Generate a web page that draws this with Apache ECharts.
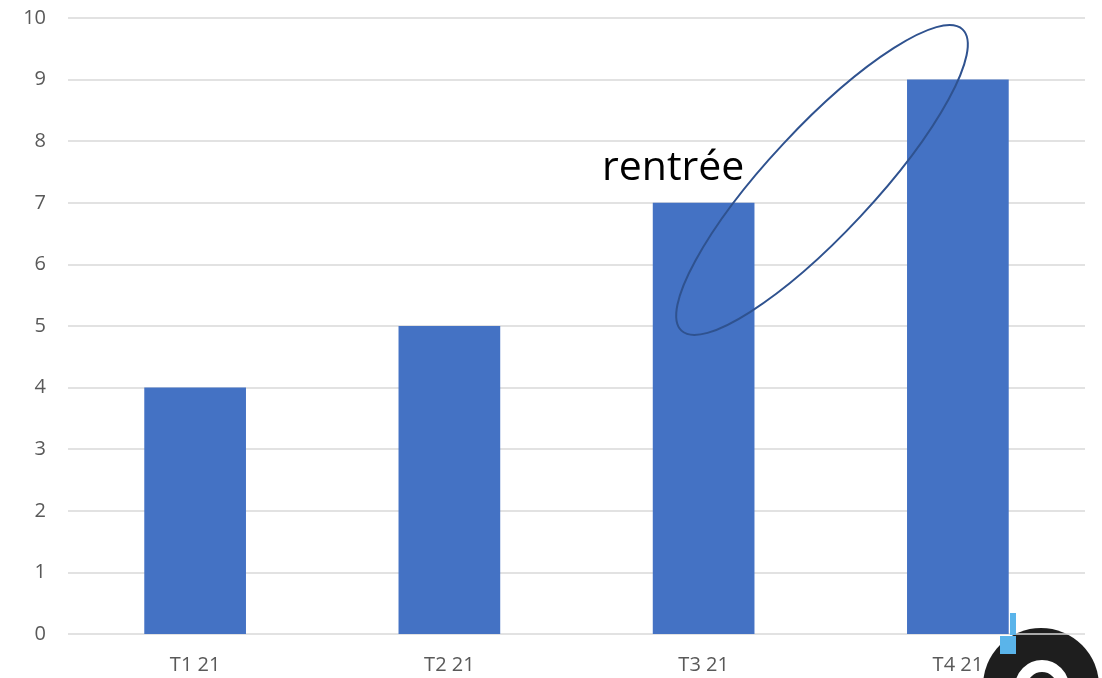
<!DOCTYPE html>
<html><head><meta charset="utf-8">
<script src="https://cdn.jsdelivr.net/npm/echarts@6/dist/echarts.min.js"></script>
<style>html,body{margin:0;padding:0;background:#fff}#c{width:1102px;height:678px}</style>
</head><body><div id="c"></div>
<script>
const categories = ['T1 21', 'T2 21', 'T3 21', 'T4 21'];
const values = [4, 5, 7, 9];
const yTicks = [0, 10, 1];
const annotationText = 'rentrée';

const chart = echarts.init(document.getElementById('c'));
chart.setOption({
  animation: false,
  grid: { left: 68, right: 17, top: 18, bottom: 44 },
  xAxis: {
    type: 'category', data: categories, z: 5,
    axisLine: { show: false }, axisTick: { show: false },
    axisLabel: { color: '#595959', fontSize: 20, fontFamily: 'Open Sans', margin: 21 }
  },
  yAxis: {
    type: 'value', min: yTicks[0], max: yTicks[1], interval: yTicks[2], z: 5,
    axisLine: { show: false }, axisTick: { show: false },
    axisLabel: { color: '#595959', fontSize: 20, fontFamily: 'Open Sans', margin: 22 },
    splitLine: { lineStyle: { color: '#D9D9D9', width: 1.5 } }
  },
  series: [{
    type: 'bar', data: values, barWidth: '40%', z: 6,
    itemStyle: { color: '#4472C4' }
  }],
  graphic: [
    { type: 'circle', z: 0, shape: { cx: 1041, cy: 686, r: 58 }, style: { fill: '#1E1E1E' } },
    { type: 'circle', z: 1, shape: { cx: 1042, cy: 687, r: 21 }, style: { fill: 'none', stroke: '#fff', lineWidth: 12 } },
    { type: 'text', left: 602, top: 148, z: 100, style: { text: annotationText, fill: '#000', fontSize: 41, fontFamily: 'Open Sans' } },
    { type: 'ellipse', x: 822, y: 180, rotation: 0.82, z: 100, shape: { cx: 0, cy: 0, rx: 206, ry: 53 },
      style: { fill: 'none', stroke: '#2F528F', lineWidth: 2 } },
    { type: 'rect', z: 100, shape: { x: 1010, y: 613, width: 6, height: 22 }, style: { fill: '#5AB4EA' } },
    { type: 'rect', z: 100, shape: { x: 1000, y: 636, width: 16, height: 18 }, style: { fill: '#5AB4EA' } }
  ]
});
</script></body></html>
